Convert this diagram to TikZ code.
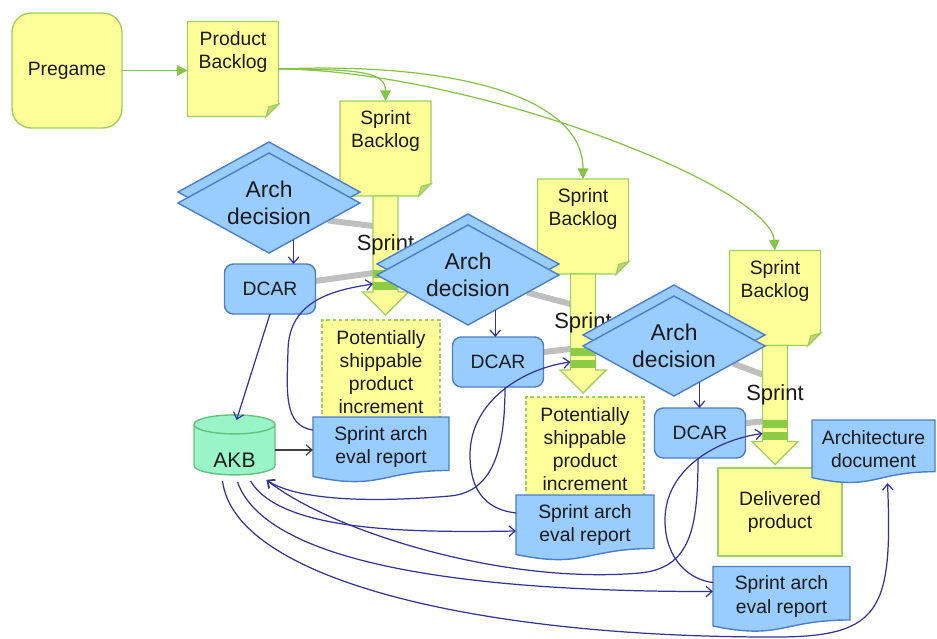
\documentclass[tikz,border=0pt]{standalone}
\usepackage{fontspec}
\setmainfont{Liberation Sans}
\usetikzlibrary{shapes.geometric,arrows.meta,calc}

\definecolor{ylw}{HTML}{FFFF99}
\definecolor{grnedge}{HTML}{9BD15C}
\definecolor{grnflow}{HTML}{86C446}
\definecolor{bandgreen}{HTML}{8DCB45}
\definecolor{notefold}{HTML}{C9D27A}
\definecolor{blu}{HTML}{99CCFF}
\definecolor{bluedge}{HTML}{4A7EC7}
\definecolor{mint}{HTML}{99F5C8}
\definecolor{mintedge}{HTML}{66C27A}
\definecolor{navy}{HTML}{333399}
\definecolor{decgray}{HTML}{BFBFBF}
\definecolor{ink}{HTML}{1A1A1A}

\pgfdeclarelayer{lines}
\pgfsetlayers{lines,main}

\def\pxu{0.02cm}

% registers for the two custom outlines
\newdimen\fnfold \fnfold=7pt
\newdimen\shXa \newdimen\shXb \newdimen\shXc
\newdimen\shYa \newdimen\shYb \newdimen\shYc \newdimen\shYd \newdimen\shYe

\makeatletter
% sticky note with a folded lower right corner
\pgfdeclareshape{foldnote}{%
  \inheritsavedanchors[from=rectangle]%
  \inheritanchorborder[from=rectangle]%
  \inheritanchor[from=rectangle]{center}%
  \inheritanchor[from=rectangle]{text}%
  \inheritanchor[from=rectangle]{base}%
  \inheritanchor[from=rectangle]{mid}%
  \inheritanchor[from=rectangle]{north}%
  \inheritanchor[from=rectangle]{south}%
  \inheritanchor[from=rectangle]{east}%
  \inheritanchor[from=rectangle]{west}%
  \inheritanchor[from=rectangle]{north east}%
  \inheritanchor[from=rectangle]{north west}%
  \inheritanchor[from=rectangle]{south east}%
  \inheritanchor[from=rectangle]{south west}%
  \backgroundpath{%
    \southwest \shXa=\pgf@x \shYa=\pgf@y
    \northeast \shXb=\pgf@x \shYb=\pgf@y
    \shXc=\shXb \advance\shXc by -\fnfold
    \shYc=\shYa \advance\shYc by \fnfold
    \pgfpathmoveto{\pgfqpoint{\shXa}{\shYb}}%
    \pgfpathlineto{\pgfqpoint{\shXb}{\shYb}}%
    \pgfpathlineto{\pgfqpoint{\shXb}{\shYc}}%
    \pgfpathlineto{\pgfqpoint{\shXc}{\shYa}}%
    \pgfpathlineto{\pgfqpoint{\shXa}{\shYa}}%
    \pgfpathclose
  }%
  \behindforegroundpath{%
    \southwest \shXa=\pgf@x \shYa=\pgf@y
    \northeast \shXb=\pgf@x \shYb=\pgf@y
    \shXc=\shXb \advance\shXc by -\fnfold
    \shYc=\shYa \advance\shYc by \fnfold
    \shYd=\shYa \advance\shYd by 0.78\fnfold
    \shYe=\shXb \advance\shYe by -0.78\fnfold
    \pgfscope
      \pgfsetfillcolor{notefold}%
      \pgfsetstrokecolor{grnedge}%
      \pgfpathmoveto{\pgfqpoint{\shXb}{\shYc}}%
      \pgfpathlineto{\pgfqpoint{\shXc}{\shYa}}%
      \pgfpathlineto{\pgfqpoint{\shYe}{\shYd}}%
      \pgfpathclose
      \pgfusepath{fill,stroke}%
    \endpgfscope
  }%
}
% document sheet with a wavy lower edge
\pgfdeclareshape{docwave}{%
  \inheritsavedanchors[from=rectangle]%
  \inheritanchorborder[from=rectangle]%
  \inheritanchor[from=rectangle]{center}%
  \inheritanchor[from=rectangle]{text}%
  \inheritanchor[from=rectangle]{base}%
  \inheritanchor[from=rectangle]{mid}%
  \inheritanchor[from=rectangle]{north}%
  \inheritanchor[from=rectangle]{south}%
  \inheritanchor[from=rectangle]{east}%
  \inheritanchor[from=rectangle]{west}%
  \inheritanchor[from=rectangle]{north east}%
  \inheritanchor[from=rectangle]{north west}%
  \inheritanchor[from=rectangle]{south east}%
  \inheritanchor[from=rectangle]{south west}%
  \backgroundpath{%
    \southwest \shXa=\pgf@x \shYa=\pgf@y
    \northeast \shXb=\pgf@x \shYb=\pgf@y
    \shYc=\shYb \advance\shYc by -\shYa
    \shXc=\shXa \advance\shXc by \shXb \divide\shXc by 2
    \shYd=\shYa \advance\shYd by 0.109\shYc
    \shYe=\shYa \advance\shYe by -0.23\shYc
    \shYc=\shYa \advance\shYc by -0.038\shYc
    \pgfpathmoveto{\pgfqpoint{\shXa}{\shYb}}%
    \pgfpathlineto{\pgfqpoint{\shXb}{\shYb}}%
    \pgfpathlineto{\pgfqpoint{\shXb}{\shYd}}%
    \pgfpathcurveto{\pgfqpoint{\shXc}{\shYd}}{\pgfqpoint{\shXc}{\shYe}}{\pgfqpoint{\shXa}{\shYc}}%
    \pgfpathclose
  }%
}
\makeatother

\newcommand\notetxt[1]{\parbox[c][1.52cm][t]{1.75cm}{\centering #1}}

\tikzset{
  base/.style={font=\fontsize{11}{13.2}\selectfont, text=ink, outer sep=0pt, align=center},
  yellowbox/.style={base, fill=ylw, draw=grnedge, line width=0.8pt},
  pregamebox/.style={yellowbox, rounded corners=11pt, minimum width=110*\pxu, minimum height=115*\pxu},
  notebox/.style={yellowbox, shape=foldnote, inner sep=0pt, minimum width=91*\pxu, minimum height=95*\pxu},
  pspibox/.style={yellowbox, dash pattern=on 2pt off 1.5pt, line width=0.6pt, inner sep=0pt,
    minimum width=118*\pxu, minimum height=104*\pxu},
  delivbox/.style={yellowbox, minimum width=124*\pxu, minimum height=88*\pxu},
  bluebox/.style={base, fill=blu, draw=bluedge, line width=0.8pt},
  dcarbox/.style={bluebox, rounded corners=5pt, minimum width=91*\pxu, minimum height=50*\pxu},
  decision/.style={bluebox, shape=diamond, shape aspect=1.82, inner sep=0pt,
    minimum width=182*\pxu, minimum height=100*\pxu, font=\fontsize{13}{15.3}\selectfont},
  evaldoc/.style={bluebox, shape=docwave, inner sep=0pt, minimum height=60*\pxu},
  dbstore/.style={base, shape=cylinder, shape border rotate=90, aspect=0.45, fill=mint,
    draw=mintedge, line width=0.8pt, inner sep=0pt, minimum width=81*\pxu, minimum height=60*\pxu,
    font=\fontsize{12}{14}\selectfont},
  sprintbody/.style={fill=ylw, draw=grnedge, line width=0.8pt},
  sprintband/.style={fill=bandgreen},
  sprintlbl/.style={font=\fontsize{12.5}{14}\selectfont, text=ink, inner sep=0pt},
  flowline/.style={draw=grnflow, line width=0.7pt, -{Triangle[length=6pt,width=6pt]}},
  conn/.style={draw=navy, line width=0.7pt, -{Straight Barb[length=3.5pt,width=6pt]}},
  connk/.style={draw=black!75, line width=0.7pt, -{Straight Barb[length=3.5pt,width=6pt]}},
  decline/.style={draw=decgray, line width=3.4pt},
}

% big down arrow leaving a sprint backlog, with its two green bands
\newcommand\sprintarrow[2]{%
  \filldraw[sprintbody] ([shift={(-12.5,0)}]#2.south) -- ++(0,96) -- ++(-10.5,0)
     -- ++(23,23) -- ++(23,-23) -- ++(-10.5,0) -- ++(0,-96) -- cycle;
  \fill[sprintband] ([shift={(-12.5,74)}]#2.south) rectangle ++(25,8);
  \fill[sprintband] ([shift={(-12.5,86)}]#2.south) rectangle ++(25,8);
  \coordinate (#1in) at ([shift={(-12.5,88)}]#2.south);
  \node[sprintlbl] (#1) at ([shift={(0,49)}]#2.south) {Sprint};
}

\begin{document}
\begin{tikzpicture}[x=0.02cm, y=-0.02cm]
\useasboundingbox (0,0) rectangle (937,639);

% backlogs
\node[pregamebox] (pregame) at (67,70.5) {Pregame};
\node[notebox] (pb) at (233,69) {\notetxt{Product\\Backlog}};
\node[notebox] (sb1) at (385.5,148.5) {\notetxt{Sprint\\Backlog}};
\node[notebox] (sb2) at (583,226.5) {\notetxt{Sprint\\Backlog}};
\node[notebox] (sb3) at (775,298) {\notetxt{Sprint\\Backlog}};

% sprints
\sprintarrow{sp1}{sb1}
\sprintarrow{sp2}{sb2}
\sprintarrow{sp3}{sb3}

% architecture decisions (stacked pairs)
\node[decision] (ad1b) at (269,192) {};
\node[decision] (ad1) at (269,203) {Arch\\decision};
\node[decision] (ad2b) at (468,264) {};
\node[decision] (ad2) at (468,275) {Arch\\decision};
\node[decision] (ad3b) at (674,335) {};
\node[decision] (ad3) at (674,346) {Arch\\decision};

% reviews
\node[dcarbox] (d1) at (270,289) {DCAR};
\node[dcarbox] (d2) at (498,362) {DCAR};
\node[dcarbox] (d3) at (700,433) {DCAR};

% sprint results
\node[pspibox] (p1) at (381,372) {Potentially\\shippable\\product\\increment};
\node[pspibox] (p2) at (585,449) {Potentially\\shippable\\product\\increment};
\node[delivbox] (dp) at (780,512) {Delivered\\product};

% documents and knowledge base
\node[evaldoc, minimum width=136*\pxu] (r1) at (381,447) {Sprint arch\\eval report};
\node[evaldoc, minimum width=138*\pxu] (r2) at (585,525) {Sprint arch\\eval report};
\node[evaldoc, minimum width=137*\pxu] (r3) at (781.5,596.5) {Sprint arch\\eval report};
\node[evaldoc, minimum width=123*\pxu, minimum height=58*\pxu] (arch) at (873.5,449) {Architecture\\document};
\node[dbstore] (akb) at (234.5,450) {\smash{\raisebox{-0.35cm}{AKB}}};

% backlog flow
\draw[flowline] (pregame.east) -- (pregame.east -| pb.west);
\draw[flowline] (pb.east) .. controls (365,69) and (385.5,73) .. (sb1.north);
\draw[flowline] (pb.east) .. controls (450,62) and (583,95) .. (sb2.north);
\draw[flowline] (pb.east) .. controls (470,70) and (770,186) .. (sb3.north);

% decision -> review
\coordinate (ad1o) at ($(ad1.south)!0.27!(ad1.east)$);
\coordinate (ad2o) at ($(ad2.south)!0.30!(ad2.east)$);
\coordinate (ad3o) at ($(ad3.south)!0.28!(ad3.east)$);
\draw[conn] (ad1o) -- (ad1o |- d1.north);
\draw[conn] (ad2o) -- (ad2o |- d2.north);
\draw[conn] (ad3o) -- (ad3o |- d3.north);

% knowledge base traffic
\coordinate (akbin) at ([shift={(32,30)}]akb.center);
\coordinate (akbout) at ([shift={(40.5,0)}]akb.center);
\draw[conn] (d1.south) -- ([shift={(2,-30)}]akb.center);
\draw[connk] (akbout) -- (akbout -| r1.west);
\draw[conn] ([shift={(7,0)}]d2.south) .. controls (505,445) and (495,492) .. (450,496)
   .. controls (380,502) and (300,502) .. (akbin);
\draw[conn] ([shift={(-2,0)}]d3.south) .. controls (698,530) and (690,568) .. (640,573)
   .. controls (500,585) and (330,530) .. (akbin);
\draw[conn] ([shift={(16,31)}]akb.center) .. controls (280,530) and (400,533) .. ([shift={(0,36)}]r2.north west);
\draw[conn] ([shift={(3,32)}]akb.center) .. controls (265,560) and (450,592) .. ([shift={(0,25)}]r3.north west);
\draw[conn] ([shift={(-12,31)}]akb.center) .. controls (235,580) and (480,638) .. (780,637)
   .. controls (880,636) and (893,610) .. ([shift={(14,5)}]arch.south);

% evaluation feedback into the sprints
\draw[conn] ([shift={(0,13)}]r1.north west) .. controls (283,426) and (287,390) .. (288,350)
   .. controls (289,300) and (334,290) .. (sp1in);
\draw[conn] ([shift={(0,18)}]r2.north west) .. controls (490,510) and (470,495) .. (470,455)
   .. controls (470,400) and (525,368) .. (sp2in);
\draw[conn] ([shift={(0,16)}]r3.north west) .. controls (690,580) and (665,560) .. (665,520)
   .. controls (665,470) and (715,440) .. (sp3in);

% decision lines into the sprints
\begin{pgfonlayer}{lines}
  \draw[decline] ($(ad1.east)!0.35!(ad1.south)$) -- ([shift={(-12.5,30)}]sb1.south);
  \draw[decline] ([shift={(0,-8)}]d1.east) -- ([shift={(-12.5,77)}]sb1.south);
  \draw[decline] ($(ad2.east)!0.35!(ad2.south)$) -- ([shift={(-12.5,30)}]sb2.south);
  \draw[decline] ([shift={(0,-10)}]d2.east) -- ([shift={(-12.5,75)}]sb2.south);
  \draw[decline] ($(ad3.east)!0.35!(ad3.south)$) -- ([shift={(-12.5,29)}]sb3.south);
  \draw[decline] ([shift={(0,-10)}]d3.east) -- ([shift={(-12.5,76)}]sb3.south);
\end{pgfonlayer}
\end{tikzpicture}
\end{document}
